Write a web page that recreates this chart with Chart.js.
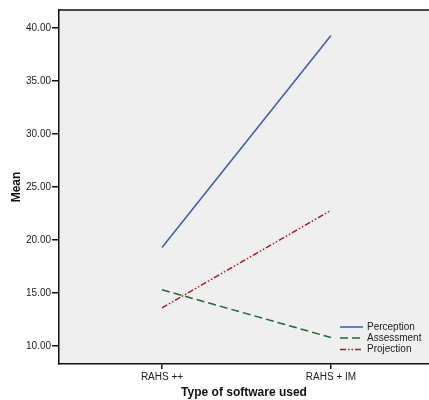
<!DOCTYPE html>
<html>
<head>
<meta charset="utf-8">
<script src="https://cdn.jsdelivr.net/npm/chart.js@4.4.0/dist/chart.umd.min.js"></script>
<style>
  html, body { margin: 0; padding: 0; background: #fff; }
  #wrap { width: 429px; height: 400px; }
</style>
</head>
<body>
<div id="wrap"><canvas id="myChart"></canvas></div>
<script>
const categories = ['RAHS ++', 'RAHS + IM'];
const perception = [19.3, 39.3];
const assessment = [15.3, 10.8];
const projection = [13.6, 22.8];
const yTicks = [10, 15, 20, 25, 30, 35, 40];

const ctx = document.querySelector("#myChart");

// plot background, top frame line and the legend box in the lower right
const framePlugin = {
    id: 'frame',
    beforeDraw(chart) {
        const a = chart.chartArea;
        const c = chart.ctx;
        c.save();
        c.fillStyle = '#efefef';
        c.fillRect(a.left, a.top, a.right - a.left, a.bottom - a.top);
        c.restore();
    },
    afterDraw(chart) {
        const a = chart.chartArea;
        const c = chart.ctx;
        c.save();
        c.strokeStyle = '#111';
        c.lineWidth = 1.5;
        c.beginPath();
        c.moveTo(a.left, a.top);
        c.lineTo(a.right, a.top);
        c.stroke();

        c.font = '10px "Liberation Sans", Arial, sans-serif';
        c.fillStyle = '#222';
        c.textBaseline = 'middle';
        const rows = [327, 338, 349.5];
        chart.data.datasets.forEach((ds, i) => {
            c.strokeStyle = ds.borderColor;
            c.lineWidth = 1.5;
            c.setLineDash(ds.borderDash || []);
            c.beginPath();
            c.moveTo(340, rows[i]);
            c.lineTo(363, rows[i]);
            c.stroke();
            c.setLineDash([]);
            c.fillText(ds.label, 367, rows[i]);
        });
        c.restore();
    }
};

let myChart = new Chart(ctx, {
    type: 'line',
    data: {
        datasets: [
            {
                label: 'Perception',
                data: perception.map((v, i) => ({ x: i, y: v })),
                borderColor: '#3f5bab',
                borderWidth: 1.5
            },
            {
                label: 'Assessment',
                data: assessment.map((v, i) => ({ x: i, y: v })),
                borderColor: '#1d6a36',
                borderWidth: 1.5,
                borderDash: [8, 4]
            },
            {
                label: 'Projection',
                data: projection.map((v, i) => ({ x: i, y: v })),
                borderColor: '#a51d22',
                borderWidth: 1.5,
                borderDash: [6, 2, 1.5, 2, 1.5, 2]
            }
        ]
    },
    options: {
        responsive: true,
        maintainAspectRatio: false,
        animation: false,
        events: [],
        elements: { point: { radius: 0 }, line: { tension: 0 } },
        layout: { padding: { top: 10, right: 0, left: 0, bottom: 0 } },
        plugins: { legend: { display: false }, tooltip: { enabled: false } },
        scales: {
            x: {
                type: 'linear',
                min: -0.6095,
                max: 1.58,
                afterBuildTicks: scale => { scale.ticks = categories.map((c, i) => ({ value: i })); },
                afterFit: scale => { scale.height = 36; },
                grid: { drawOnChartArea: false, drawTicks: true, tickLength: 5, color: '#111', lineWidth: 1.5 },
                border: { display: true, color: '#111', width: 1.5 },
                ticks: {
                    callback: v => categories[v],
                    color: '#222',
                    padding: 2,
                    maxRotation: 0,
                    font: { family: '"Liberation Sans", Arial, sans-serif', size: 10 }
                },
                title: {
                    display: true,
                    text: 'Type of software used',
                    color: '#111',
                    padding: { top: 1, bottom: 0 },
                    font: { family: '"Liberation Sans", Arial, sans-serif', size: 12, weight: 'bold' }
                }
            },
            y: {
                min: 8.3,
                max: 41.7,
                afterBuildTicks: scale => { scale.ticks = yTicks.map(v => ({ value: v })); },
                afterFit: scale => { scale.width = 59; },
                grid: { drawOnChartArea: false, drawTicks: true, tickLength: 7, color: '#111', lineWidth: 1.5 },
                border: { display: true, color: '#111', width: 1.5 },
                ticks: {
                    callback: v => v.toFixed(2),
                    color: '#222',
                    padding: 1,
                    font: { family: '"Liberation Sans", Arial, sans-serif', size: 10 }
                },
                title: {
                    display: true,
                    text: 'Mean',
                    color: '#111',
                    padding: { top: 9, bottom: 0 },
                    font: { family: '"Liberation Sans", Arial, sans-serif', size: 12, weight: 'bold' }
                }
            }
        }
    },
    plugins: [framePlugin]
});
</script>
</body>
</html>
